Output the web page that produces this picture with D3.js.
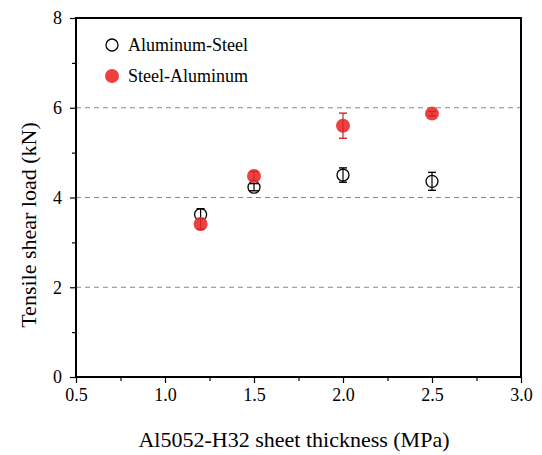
<!DOCTYPE html>
<html><head><meta charset="utf-8">
<script src="https://cdn.jsdelivr.net/npm/d3@7"></script>
<style>body{margin:0;background:#fff}svg{display:block}</style>
</head><body><svg id="c" width="542" height="455"></svg>
<script>
const thickness = [1.2, 1.5, 2.0, 2.5];
const alSteel = [3.62, 4.23, 4.50, 4.36];
const alSteelErr = [0.13, 0.08, 0.16, 0.20];
const steelAl = [3.41, 4.48, 5.60, 5.87];
const steelAlErr = [0.12, 0.10, 0.28, 0.05];
const xTicks = [0.5, 1.0, 1.5, 2.0, 2.5, 3.0];
const yTicks = [0, 2, 4, 6, 8];
const xMinor = [0.75, 1.25, 1.75, 2.25, 2.75];
const yMinor = [1, 3, 5, 7];
const gridVals = [2, 4, 6];

const FONT = "Liberation Serif, Times New Roman, serif";
const svg = d3.select("#c");
const L = 76, R = 521, T = 18, B = 377;
const x = d3.scaleLinear().domain([0.5, 3.0]).range([L, R]);
const y = d3.scaleLinear().domain([0, 8]).range([B, T]);

svg.append("g").selectAll("line").data(gridVals).join("line")
  .attr("x1", L).attr("x2", R).attr("y1", d => y(d)).attr("y2", d => y(d))
  .attr("stroke", "#888").attr("stroke-width", 1).attr("stroke-dasharray", "5,4");

const xAx = svg.append("g").attr("transform", `translate(0,${B})`)
  .call(d3.axisBottom(x).tickValues(xTicks).tickFormat(d3.format(".1f")).tickSize(6).tickPadding(5));
const xAxMinor = svg.append("g").attr("transform", `translate(0,${B})`)
  .call(d3.axisBottom(x).tickValues(xMinor).tickFormat("").tickSize(4));
const yAx = svg.append("g").attr("transform", `translate(${L},0)`)
  .call(d3.axisLeft(y).tickValues(yTicks).tickFormat(d3.format("d")).tickSize(6).tickPadding(8));
const yAxMinor = svg.append("g").attr("transform", `translate(${L},0)`)
  .call(d3.axisLeft(y).tickValues(yMinor).tickFormat("").tickSize(4));
[xAx, xAxMinor, yAx, yAxMinor].forEach(g => {
  g.attr("font-family", FONT);
  g.select(".domain").remove();
  g.selectAll("line").attr("stroke", "#000").attr("stroke-width", 1.2);
  g.selectAll("text").attr("font-size", 18).attr("font-family", FONT).attr("fill", "#000");
});

svg.append("rect").attr("x", L).attr("y", T).attr("width", R - L).attr("height", B - T)
  .attr("fill", "none").attr("stroke", "#000").attr("stroke-width", 2);

function drawSeries(vals, errs, isFilled) {
  const g = svg.append("g");
  const data = thickness.map((t, i) => ({t, v: vals[i], e: errs[i]}));
  const col = isFilled ? "#c82a2a" : "#000";
  if (isFilled) {
    g.selectAll("circle").data(data).join("circle")
      .attr("cx", d => x(d.t)).attr("cy", d => y(d.v)).attr("r", 7)
      .attr("fill", "#ef4040");
  } else {
    g.selectAll("circle").data(data).join("circle")
      .attr("cx", d => x(d.t)).attr("cy", d => y(d.v)).attr("r", 6)
      .attr("fill", "none").attr("stroke", "#000").attr("stroke-width", 1.3);
  }
  g.append("g").selectAll("line").data(data).join("line")
    .attr("x1", d => x(d.t)).attr("x2", d => x(d.t))
    .attr("y1", d => y(d.v - d.e)).attr("y2", d => y(d.v + d.e))
    .attr("stroke", col).attr("stroke-width", 1.2);
  [1, -1].forEach(s => {
    g.append("g").selectAll("line").data(data).join("line")
      .attr("x1", d => x(d.t) - 4).attr("x2", d => x(d.t) + 4)
      .attr("y1", d => y(d.v + s * d.e)).attr("y2", d => y(d.v + s * d.e))
      .attr("stroke", col).attr("stroke-width", 1.4);
  });
}
drawSeries(alSteel, alSteelErr, false);
drawSeries(steelAl, steelAlErr, true);

const leg = svg.append("g");
leg.append("circle").attr("cx", 112).attr("cy", 45).attr("r", 6)
  .attr("fill", "none").attr("stroke", "#000").attr("stroke-width", 1.3);
leg.append("text").attr("x", 128).attr("y", 51).attr("font-size", 18).attr("font-family", FONT).text("Aluminum-Steel");
leg.append("circle").attr("cx", 112).attr("cy", 76).attr("r", 7).attr("fill", "#ef4040");
leg.append("text").attr("x", 128).attr("y", 82).attr("font-size", 18).attr("font-family", FONT).text("Steel-Aluminum");

svg.append("text").attr("x", 294).attr("y", 447).attr("text-anchor", "middle")
  .attr("font-size", 22).attr("font-family", FONT).text("Al5052-H32 sheet thickness (MPa)");
svg.append("text").attr("transform", `translate(36,225) rotate(-90)`)
  .attr("text-anchor", "middle").attr("font-size", 22).attr("font-family", FONT).text("Tensile shear load (kN)");
</script></body></html>
